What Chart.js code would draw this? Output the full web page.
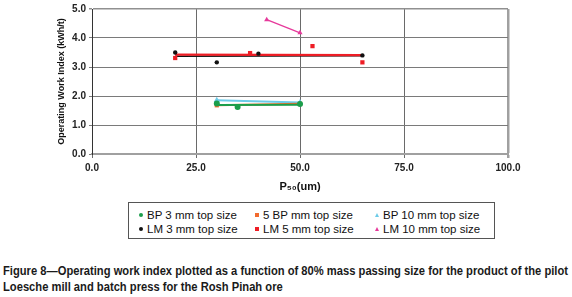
<!DOCTYPE html>
<html>
<head>
<meta charset="utf-8">
<script src="https://cdn.jsdelivr.net/npm/chart.js@4.4.1/dist/chart.umd.min.js"></script>
<style>
  html, body { margin: 0; padding: 0; background: #fff; }
  body { width: 572px; height: 297px; position: relative; overflow: hidden; font-family: "Liberation Sans", Arial, sans-serif; }
  #wrap { position: absolute; left: 0; top: 0; width: 572px; height: 200px; }
  #legend { position: absolute; left: 128px; top: 202px; width: 367px; height: 37px; border: 1px solid #555; box-sizing: border-box; font-size: 11.5px; color: #111; }
  #legend .item { position: absolute; white-space: nowrap; line-height: 14px; }
  #legend .mk { display: inline-block; vertical-align: middle; margin-right: 4px; position: relative; top: -1px; }
  #caption { position: absolute; left: 3px; top: 264px; font-family: "Liberation Sans", Arial, sans-serif; font-weight: bold; font-size: 12.5px; line-height: 15.5px; color: #1a1a1a; white-space: nowrap; transform-origin: 0 0; }
</style>
</head>
<body>
<div id="wrap"><canvas id="WorkIndex" width="572" height="200"></canvas></div>
<div id="legend"></div>
<div id="caption"><span id="cap1">Figure 8&#8212;Operating work index plotted as a function of 80% mass passing size for the product of the pilot</span><br>Loesche mill and batch press for the Rosh Pinah ore</div>
<script>
(function () {
  "use strict";

  // Data
  const bp3X  = [30, 35, 50];
  const bp3Y  = [1.74, 1.62, 1.72];
  const bp5X  = [30, 50];
  const bp5Y  = [1.68, 1.73];
  const bp10X = [30, 50];
  const bp10Y = [1.85, 1.78];
  const lm3X  = [20, 30, 40, 65];
  const lm3Y  = [3.50, 3.16, 3.46, 3.40];
  const lm5X  = [20, 38, 53, 65];
  const lm5Y  = [3.31, 3.48, 3.72, 3.16];
  const lm10X = [42, 50];
  const lm10Y = [4.63, 4.18];

  const xTicks = [0, 25, 50, 75, 100];
  const yTicks = [0, 1, 2, 3, 4, 5];

  // Colors
  const c_green  = '#1b9e4b';
  const c_orange = '#f26a2e';
  const c_cyan   = '#6ccbe8';
  const c_black  = '#111111';
  const c_red    = '#ee1d25';
  const c_pink   = '#e6399b';

  function pts(xs, ys) {
    return xs.map(function (x, i) { return { x: x, y: ys[i] }; });
  }

  // linear trendline (Excel style) from first to last x
  function trend(xs, ys) {
    const n = xs.length;
    const mx = xs.reduce((a, b) => a + b, 0) / n;
    const my = ys.reduce((a, b) => a + b, 0) / n;
    let sxy = 0, sxx = 0;
    for (let i = 0; i < n; i++) {
      sxy += (xs[i] - mx) * (ys[i] - my);
      sxx += (xs[i] - mx) * (xs[i] - mx);
    }
    const k = sxx ? sxy / sxx : 0;
    const x0 = Math.min.apply(null, xs), x1 = Math.max.apply(null, xs);
    return [{ x: x0, y: my + k * (x0 - mx) }, { x: x1, y: my + k * (x1 - mx) }];
  }

  const series = [
    { label: 'BP 3 mm top size',  xs: bp3X,  ys: bp3Y,  color: c_green,  style: 'circle',   r: 3,   lw: 2,   order: 3 },
    { label: '5 BP mm top size',  xs: bp5X,  ys: bp5Y,  color: c_orange, style: 'rect',     r: 3,   lw: 2,   order: 4 },
    { label: 'BP 10 mm top size', xs: bp10X, ys: bp10Y, color: c_cyan,   style: 'triangle', r: 3.5, lw: 2,   order: 5 },
    { label: 'LM 3 mm top size',  xs: lm3X,  ys: lm3Y,  color: c_black,  style: 'circle',   r: 2.2, lw: 1.5, order: 2 },
    { label: 'LM 5 mm top size',  xs: lm5X,  ys: lm5Y,  color: c_red,    style: 'rect',     r: 3,   lw: 2.2, order: 1 },
    { label: 'LM 10 mm top size', xs: lm10X, ys: lm10Y, color: c_pink,   style: 'triangle', r: 3,   lw: 1.3, order: 1 }
  ];

  const datasets = [];
  series.forEach(function (s) {
    datasets.push({
      label: s.label,
      data: pts(s.xs, s.ys),
      showLine: false,
      pointStyle: s.style,
      pointRadius: s.r,
      pointBackgroundColor: s.color,
      pointBorderColor: s.color,
      pointBorderWidth: 0,
      order: 0
    });
    datasets.push({
      label: s.label + ' trend',
      data: trend(s.xs, s.ys),
      showLine: true,
      borderColor: s.color,
      borderWidth: s.lw,
      pointRadius: 0,
      order: s.order
    });
  });

  const tickFont = { family: "'Liberation Sans', Arial, sans-serif", size: 10, weight: 'bold' };

  new Chart(document.getElementById('WorkIndex'), {
    type: 'scatter',
    data: { datasets: datasets },
    options: {
      responsive: false,
      animation: false,
      layout: { padding: { left: 50, right: 64, top: 8, bottom: 0 } },
      plugins: { legend: { display: false }, tooltip: { enabled: false } },
      scales: {
        x: {
          type: 'linear',
          min: 0, max: 100,
          afterBuildTicks: function (scale) { scale.ticks = xTicks.map(v => ({ value: v })); },
          afterFit: function (scale) { scale.height = 46; },
          ticks: { font: tickFont, color: '#222', padding: 4, callback: v => v.toFixed(1), maxRotation: 0 },
          grid: {
            color: ctx => ctx.tick && ctx.tick.value === 100 ? '#a0a0a0' : '#6a6a6a',
            lineWidth: ctx => ctx.tick && ctx.tick.value === 100 ? 2.5 : 1,
            tickLength: 4
          },
          border: { color: '#a0a0a0', width: 2 },
          title: {
            display: true,
            text: 'P\u2085\u2080(um)',
            font: { family: "'Liberation Sans', 'DejaVu Sans', Arial, sans-serif", size: 11, weight: 'bold' },
            color: '#111',
            padding: { top: 2, bottom: 6 }
          }
        },
        y: {
          min: 0, max: 5,
          afterBuildTicks: function (scale) { scale.ticks = yTicks.map(v => ({ value: v })); },
          afterFit: function (scale) { scale.width = 42; },
          ticks: { font: tickFont, color: '#222', padding: 3, callback: v => v.toFixed(1) },
          grid: {
            color: ctx => ctx.tick && ctx.tick.value === 5 ? '#909090' : '#7a7a7a',
            lineWidth: ctx => ctx.tick && ctx.tick.value === 5 ? 1.5 : 1,
            tickLength: 3
          },
          border: { color: '#333', width: 1 },
          title: {
            display: true,
            text: 'Operating Work Index (kWh/t)',
            font: { family: "'Liberation Sans', Arial, sans-serif", size: 9, weight: 'bold' },
            color: '#111',
            padding: { top: 6, bottom: 0 }
          }
        }
      }
    }
  });

  // HTML legend, 3 columns x 2 rows
  const legend = document.getElementById('legend');
  const colLeft = [10, 126, 246];
  const rowTop = [5, 19];
  series.forEach(function (s, i) {
    const item = document.createElement('div');
    item.className = 'item';
    item.style.left = colLeft[i % 3] + 'px';
    item.style.top = rowTop[Math.floor(i / 3)] + 'px';
    const mk = document.createElement('span');
    mk.className = 'mk';
    if (s.style === 'triangle') {
      mk.style.width = '0';
      mk.style.height = '0';
      mk.style.borderLeft = '2.5px solid transparent';
      mk.style.borderRight = '2.5px solid transparent';
      mk.style.borderBottom = '4px solid ' + s.color;
    } else {
      mk.style.width = '4px';
      mk.style.height = '4px';
      mk.style.background = s.color;
      if (s.style === 'circle') mk.style.borderRadius = '50%';
    }
    item.appendChild(mk);
    item.appendChild(document.createTextNode(s.label));
    legend.appendChild(item);
  });

  // squeeze caption to the condensed width of the original (first line ~565px)
  const cap = document.getElementById('caption');
  const w = document.getElementById('cap1').getBoundingClientRect().width;
  cap.style.transform = 'scaleX(' + (565 / w) + ')';

})();
</script>
</body>
</html>
